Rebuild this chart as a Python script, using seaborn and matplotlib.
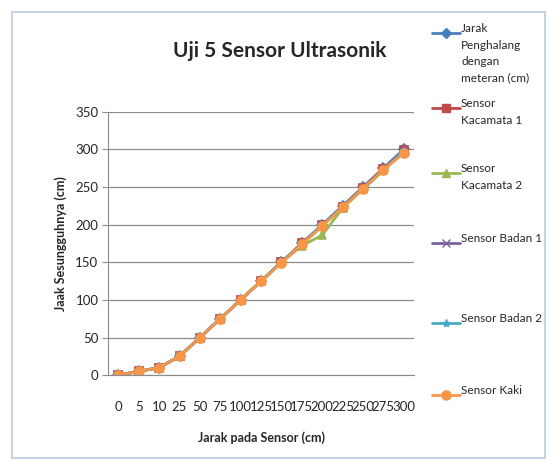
import pandas as pd
import numpy as np
import matplotlib
matplotlib.use('Agg')
import matplotlib.pyplot as plt
import seaborn as sns
from matplotlib.lines import Line2D
from matplotlib.patches import Rectangle

# data
jarak_sensor = ['0', '5', '10', '25', '50', '75', '100', '125', '150', '175', '200', '225', '250', '275', '300']
jarak_meteran = [0, 5, 10, 25, 50, 75, 100, 125, 150, 175, 200, 225, 250, 275, 300]
kacamata_1 = [0, 5, 10, 25, 50, 75, 100, 125, 150, 175, 199, 224, 249, 274, 299]
kacamata_2 = [0, 5, 10, 25, 50, 75, 100, 125, 150, 172, 186, 222, 247, 272, 297]
badan_1 = [0, 5, 10, 25, 50, 75, 100, 125, 150, 174, 199, 224, 248, 273, 298]
badan_2 = [0, 5, 10, 25, 50, 75, 100, 125, 150, 174, 199, 224, 248, 273, 298]
kaki = [0, 5, 10, 25, 50, 75, 100, 125, 149, 174, 198, 223, 248, 273, 295]

series = [
    ('Jarak\nPenghalang\ndengan\nmeteran (cm)', jarak_meteran, '#4A7EBB', 'D', 5),
    ('Sensor\nKacamata 1', kacamata_1, '#BE4B48', 's', 5.5),
    ('Sensor\nKacamata 2', kacamata_2, '#98B954', '^', 6),
    ('Sensor Badan 1', badan_1, '#7D60A0', 'x', 6),
    ('Sensor Badan 2', badan_2, '#46AAC5', '*', 6),
    ('Sensor Kaki', kaki, '#F79646', 'o', 6.5),
]

sns.set_style('white')
plt.rcParams['font.family'] = ['Lato', 'DejaVu Sans']

fig = plt.figure(figsize=(5.49, 4.62), dpi=100)
ax = fig.add_axes([0.197, 0.188, 0.557, 0.570])

for name, vals, color, mk, ms in series:
    df = pd.DataFrame({'x': jarak_sensor, 'y': vals})
    sns.lineplot(data=df, x='x', y='y', ax=ax, color=color, marker=mk,
                 markersize=ms, linewidth=2.0, sort=False, markeredgecolor=color,
                 markeredgewidth=1.2, legend=False)

ax.set_ylim(0, 350)
ax.set_yticks(np.arange(0, 351, 50))
ax.set_xlim(-0.5, len(jarak_sensor) - 0.5)
ax.yaxis.grid(True, color='#8C8C8C', linewidth=0.9)
ax.xaxis.grid(False)
for s in ['top', 'right']:
    ax.spines[s].set_visible(False)
ax.spines['left'].set_color('#8C8C8C')
ax.spines['bottom'].set_color('#8C8C8C')
ax.tick_params(axis='y', left=True, length=4, color='#8C8C8C', labelsize=9.5, pad=3)
ax.tick_params(axis='x', bottom=False, labelsize=9.5, pad=15)
ax.set_xlabel('Jarak pada Sensor (cm)', fontsize=9, fontweight='bold', labelpad=13)
ax.set_ylabel('Jaak Sesungguhnya (cm)', fontsize=9, fontweight='bold', labelpad=6)
fig.text(0.51, 0.89, 'Uji 5 Sensor Ultrasonik', fontsize=15, fontweight='bold',
         ha='center', va='center')

# legend drawn as in the spreadsheet (entries evenly spaced, text hanging down)
leg_y = [33, 108, 173, 243, 323, 395]
for (name, vals, color, mk, ms), yy in zip(series, leg_y):
    fy = 1 - yy / 462
    fig.add_artist(Line2D([432 / 549, 460 / 549], [fy, fy], color=color, linewidth=2.0,
                          transform=fig.transFigure))
    fig.add_artist(Line2D([446 / 549], [fy], color=color, marker=mk, markersize=ms,
                          markeredgecolor=color, transform=fig.transFigure))
    fig.text(461 / 549, fy + 0.021, name, fontsize=8.5, va='top', ha='left', linespacing=1.6)

fig.add_artist(Rectangle((12 / 549, 4 / 462), 533 / 549, 446 / 462, transform=fig.transFigure,
                         fill=False, edgecolor='#B8CCE0', linewidth=1.2))

fig.savefig('out.png', dpi=100)
